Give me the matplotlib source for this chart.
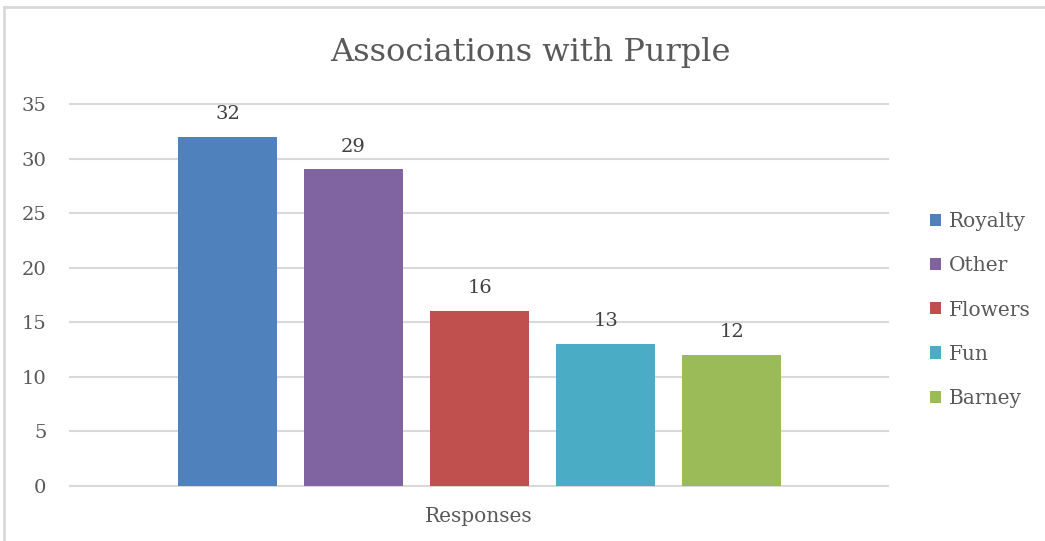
import matplotlib.pyplot as plt
from matplotlib.lines import Line2D
from matplotlib.patches import Patch

categories = ["Royalty", "Other", "Flowers", "Fun", "Barney"]
counts = [32, 29, 16, 13, 12]
colors = ["#4F81BD", "#8064A2", "#C0504D", "#4BACC6", "#9BBB59"]
yticks = [0, 5, 10, 15, 20, 25, 30, 35]

text_col = "#595959"
plt.rcParams["font.family"] = ["DejaVu Serif"]

W, H = 1045, 541
fig = plt.figure(figsize=(W / 100, H / 100), dpi=100)
ax = fig.add_axes([70 / W, 1 - 486 / H, (888 - 70) / W, (486 - 104) / H])

x = list(range(len(categories)))
ax.bar(x, counts, width=0.786, color=colors, zorder=3)
for xi, v in zip(x, counts):
    ax.annotate(str(v), (xi, v), xytext=(0, 10), textcoords="offset points",
                ha="center", va="bottom", fontsize=14, color="#404040")

ax.set_xlim(-1.25, 5.24)
ax.set_ylim(0, 35)
ax.set_yticks(yticks)
ax.set_xticks([])
ax.tick_params(axis="y", length=0, pad=17, labelsize=14, labelcolor=text_col)
ax.grid(axis="y", color="#D9D9D9", linewidth=1.5, zorder=0)
for gl in ax.get_ygridlines():
    gl.set_clip_on(False)
for s in ax.spines.values():
    s.set_visible(False)

ax.set_xlabel("Responses", fontsize=14.5, color=text_col, labelpad=15)
fig.text(530 / W, 1 - 53 / H, "Associations with Purple", ha="center", va="center",
         fontsize=23, color=text_col)

handles = [Patch(facecolor=c) for c in colors]
fig.legend(handles, categories, loc="center left", bbox_to_anchor=(912 / W, 1 - 310 / H),
           frameon=False, fontsize=14.5, labelcolor=text_col, handlelength=0.55,
           handleheight=0.55, handletextpad=0.4, labelspacing=1.25)

# chart frame edges
fig.add_artist(Line2D([4 / W, 4 / W], [0, 1 - 7 / H], color="#D9D9D9", linewidth=2))
fig.add_artist(Line2D([4 / W, 1], [1 - 7 / H, 1 - 7 / H], color="#D9D9D9", linewidth=2))

fig.savefig("out.png", dpi=100, facecolor="white")
